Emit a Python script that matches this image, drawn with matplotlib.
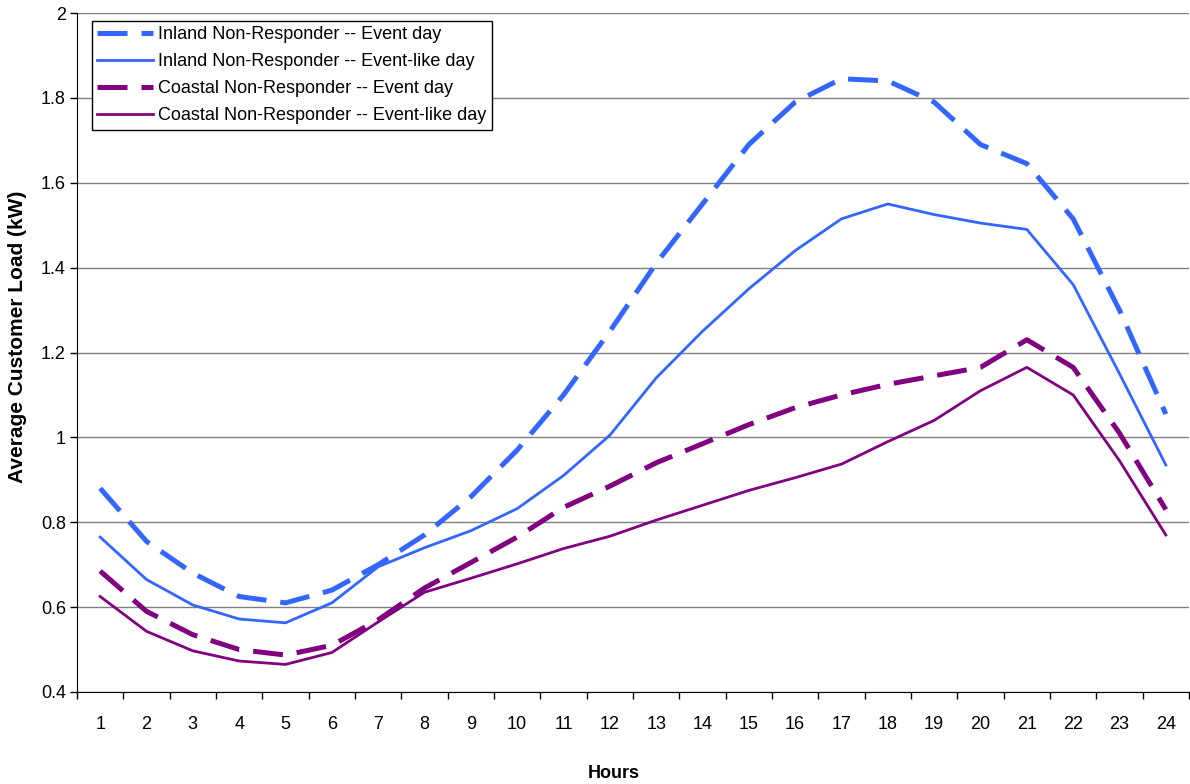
import matplotlib
matplotlib.use("Agg")
import matplotlib.pyplot as plt
from matplotlib.ticker import FixedLocator, NullFormatter

plt.rcParams['font.family'] = ['Liberation Sans', 'DejaVu Sans']

# hours of the day (categories)
hours = list(range(1, 25))

# average customer load in kW
inland_event = [0.88, 0.755, 0.68, 0.625, 0.61, 0.64, 0.70, 0.77, 0.86, 0.97, 1.10, 1.25,
                1.41, 1.55, 1.69, 1.79, 1.845, 1.84, 1.79, 1.69, 1.645, 1.515, 1.30, 1.055]
inland_like = [0.765, 0.665, 0.605, 0.572, 0.563, 0.61, 0.695, 0.74, 0.78, 0.832, 0.91, 1.005,
               1.14, 1.25, 1.35, 1.44, 1.515, 1.55, 1.525, 1.505, 1.49, 1.36, 1.15, 0.935]
coastal_event = [0.685, 0.59, 0.535, 0.50, 0.487, 0.51, 0.57, 0.645, 0.705, 0.765, 0.835, 0.885,
                 0.94, 0.985, 1.03, 1.07, 1.10, 1.125, 1.145, 1.165, 1.23, 1.165, 1.01, 0.83]
coastal_like = [0.625, 0.543, 0.497, 0.473, 0.465, 0.493, 0.565, 0.635, 0.668, 0.702, 0.738, 0.767,
                0.805, 0.84, 0.875, 0.905, 0.937, 0.99, 1.04, 1.11, 1.165, 1.10, 0.945, 0.77]

labels = ["Inland Non-Responder -- Event day",
          "Inland Non-Responder -- Event-like day",
          "Coastal Non-Responder -- Event day",
          "Coastal Non-Responder -- Event-like day"]

blue = '#3366FF'
purple = '#800080'
long_dash = (0, (6, 2.8))

fig = plt.figure(figsize=(11.9, 7.84), dpi=100)
ax = fig.add_axes([77 / 1190, 1 - 692 / 784, 1112 / 1190, 679 / 784])

ax.plot(hours, inland_event, color=blue, lw=3.6, linestyle=long_dash, label=labels[0])
ax.plot(hours, inland_like, color=blue, lw=2.0, label=labels[1])
ax.plot(hours, coastal_event, color=purple, lw=3.6, linestyle=long_dash, label=labels[2])
ax.plot(hours, coastal_like, color=purple, lw=2.0, label=labels[3])

ax.set_xlim(0.5, 24.5)
ax.set_ylim(0.4, 2.0)
ax.set_yticks([0.4, 0.6, 0.8, 1.0, 1.2, 1.4, 1.6, 1.8, 2.0])
ax.set_yticklabels(['0.4', '0.6', '0.8', '1', '1.2', '1.4', '1.6', '1.8', '2'])
ax.yaxis.grid(True, color='#808080', lw=1)
ax.set_axisbelow(True)

# category ticks between hours, labels centred on hours
ax.xaxis.set_major_locator(FixedLocator([h - 0.5 for h in hours] + [24.5]))
ax.xaxis.set_major_formatter(NullFormatter())
ax.xaxis.set_minor_locator(FixedLocator(hours))
ax.set_xticklabels([str(h) for h in hours], minor=True)
ax.tick_params(axis='x', which='major', direction='out', length=5, width=1, color='black')
ax.tick_params(axis='x', which='minor', length=0, pad=17, labelsize=13)
ax.tick_params(axis='y', direction='out', length=5, width=1, labelsize=13, pad=3)

for side in ['top', 'right']:
    ax.spines[side].set_visible(False)
ax.spines['left'].set_color('black')
ax.spines['bottom'].set_color('black')

fig.text(614 / 1190, 1 - 773 / 784, 'Hours', fontsize=13, fontweight='bold',
         ha='center', va='center')
fig.text(18 / 1190, 1 - 337 / 784, 'Average Customer Load (kW)', fontsize=15,
         fontweight='bold', rotation=90, ha='center', va='center')

leg = ax.legend(loc='upper left', bbox_to_anchor=(15 / 1112, 1 - 8 / 679), fontsize=13,
                frameon=True, fancybox=False, edgecolor='black', framealpha=1,
                handlelength=3.1, handletextpad=0.25, borderpad=0.3, labelspacing=0.55,
                borderaxespad=0)
leg.get_frame().set_linewidth(1)

fig.savefig('out.png', dpi=100)
